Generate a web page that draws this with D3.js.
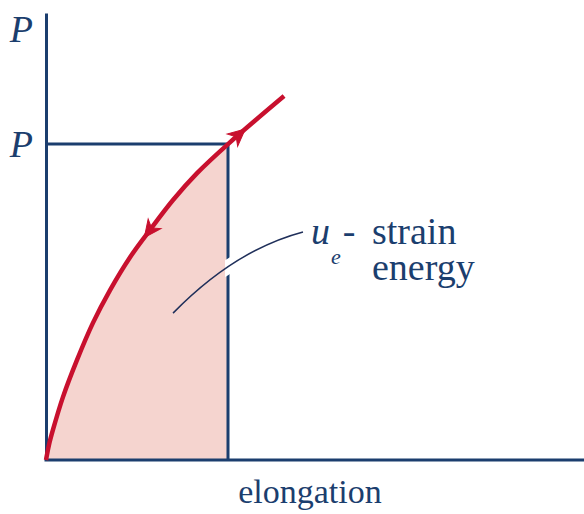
<!DOCTYPE html>
<html>
<head>
<meta charset="utf-8">
<script src="https://cdn.jsdelivr.net/npm/d3@7"></script>
<style>
  body { margin: 0; background: #fff; }
  svg { display: block; }
  .serif { font-family: "Liberation Serif", "Times New Roman", Times, "DejaVu Serif", serif; }
</style>
</head>
<body>
<div id="chart"></div>
<script>
// load-elongation curve, in units of the marked point (elongation at P, load P)
var elongation = [0, 0.016, 0.038, 0.093, 0.170, 0.258, 0.352, 0.462, 0.571, 0.698, 0.830, 1.0, 1.308];
var load = [0, 0.047, 0.095, 0.199, 0.316, 0.434, 0.538, 0.642, 0.728, 0.823, 0.908, 1.0, 1.152];
// the marked point
var markE = 1, markP = 1;
// y tick labels
var yTickVals = [1, 1.364];
var yTickLabels = ["P", "P"];
// leader line from the shaded area to its label (start, control, end)
var leaderE = [0.698, 1.038, 1.412];
var leaderP = [0.465, 0.665, 0.722];
// arrows on the curve: where and which way
var arrowE = [1.07, 0.56];
var arrowDir = [1, -1];

var W = 584, H = 514;
var navy = "#1b3e6e", red = "#c8102e", pink = "#f5d4cf";

var svg = d3.select("#chart").append("svg")
    .attr("width", W)
    .attr("height", H);

var x = d3.scaleLinear().domain([0, 2.956]).range([46, 584]);
var y = d3.scaleLinear().domain([0, 1.415]).range([460, 13]);

var pts = elongation.map(function (e, i) { return [e, load[i]]; });
var smooth = d3.curveCatmullRom.alpha(0.5);

// shaded area under the curve up to the marked point
svg.append("clipPath").attr("id", "under")
    .append("rect")
    .attr("x", x(0)).attr("y", y(markP) - 20)
    .attr("width", x(markE) - x(0))
    .attr("height", y(0) - y(markP) + 20);

var area = d3.area()
    .x(function (d) { return x(d[0]); })
    .y0(y(0))
    .y1(function (d) { return y(d[1]); })
    .curve(smooth);

svg.append("path")
    .datum(pts)
    .attr("d", area)
    .attr("fill", pink)
    .attr("clip-path", "url(#under)");

// guide lines to the marked point
svg.append("line")
    .attr("x1", x(0)).attr("x2", x(markE))
    .attr("y1", y(markP)).attr("y2", y(markP))
    .attr("stroke", navy).attr("stroke-width", 3);
svg.append("line")
    .attr("x1", x(markE)).attr("x2", x(markE))
    .attr("y1", y(markP)).attr("y2", y(0))
    .attr("stroke", navy).attr("stroke-width", 3);

// axes
var yAxis = svg.append("g")
    .attr("transform", "translate(" + x(0) + ",0)")
    .call(d3.axisLeft(y).tickValues(yTickVals)
        .tickFormat(function (d, i) { return yTickLabels[i]; })
        .tickSize(0).tickSizeOuter(0).tickPadding(13));
yAxis.attr("font-family", null).attr("font-size", null);
yAxis.select(".domain").attr("stroke", navy).attr("stroke-width", 3);
yAxis.selectAll("text")
    .attr("class", "serif")
    .style("font-style", "italic")
    .style("font-size", "38px")
    .attr("fill", navy);

var xAxis = svg.append("g")
    .attr("transform", "translate(0," + y(0) + ")")
    .call(d3.axisBottom(x).tickValues([]).tickSizeOuter(0));
xAxis.select(".domain").attr("stroke", navy).attr("stroke-width", 3)
    .attr("d", "M" + (x(0) - 1.5) + ",0H" + x.range()[1]);

// leader line, with a white gap where it crosses the vertical guide
var leader = d3.path();
leader.moveTo(x(leaderE[0]), y(leaderP[0]));
leader.quadraticCurveTo(x(leaderE[1]), y(leaderP[1]), x(leaderE[2]), y(leaderP[2]));

svg.append("clipPath").attr("id", "gap")
    .append("rect")
    .attr("x", x(markE) - 3).attr("y", 0)
    .attr("width", 6).attr("height", H);
svg.append("path")
    .attr("d", leader.toString())
    .attr("fill", "none")
    .attr("stroke", "#fff")
    .attr("stroke-width", 14)
    .attr("clip-path", "url(#gap)");
svg.append("path")
    .attr("d", leader.toString())
    .attr("fill", "none")
    .attr("stroke", "#1f2f5a")
    .attr("stroke-width", 1.5);

// the curve
var line = d3.line()
    .x(function (d) { return x(d[0]); })
    .y(function (d) { return y(d[1]); })
    .curve(smooth);

var curve = svg.append("path")
    .datum(pts)
    .attr("d", line)
    .attr("fill", "none")
    .attr("stroke", red)
    .attr("stroke-width", 4.5);

// arrowheads placed on the curve
var node = curve.node();
var total = node.getTotalLength();
function lengthAtX(px) {
    var lo = 0, hi = total;
    for (var k = 0; k < 40; k++) {
        var mid = (lo + hi) / 2;
        if (node.getPointAtLength(mid).x < px) lo = mid; else hi = mid;
    }
    return (lo + hi) / 2;
}
arrowE.forEach(function (e, i) {
    var L = lengthAtX(x(e));
    var p = node.getPointAtLength(L);
    var a = node.getPointAtLength(Math.max(0, L - 2));
    var b = node.getPointAtLength(Math.min(total, L + 2));
    var ang = Math.atan2(b.y - a.y, b.x - a.x) * 180 / Math.PI;
    if (arrowDir[i] < 0) ang += 180;
    svg.append("path")
        .attr("d", "M6,0L-11,-8L-6,0L-11,8Z")
        .attr("fill", red)
        .attr("stroke", red)
        .attr("stroke-width", 1)
        .attr("transform", "translate(" + p.x + "," + p.y + ") rotate(" + ang + ")");
});

// labels
var lab = svg.append("text")
    .attr("class", "serif")
    .attr("x", 311).attr("y", 244)
    .style("font-size", "38px")
    .attr("fill", navy);
lab.append("tspan").style("font-style", "italic").text("u");
lab.append("tspan").style("font-style", "italic").style("font-size", "22px")
    .attr("dx", 1).attr("dy", 20).text("e");
lab.append("tspan").attr("dx", 2).attr("dy", -20).text("-");
lab.append("tspan").attr("x", 372).text("strain");

svg.append("text")
    .attr("class", "serif")
    .attr("x", 372).attr("y", 280)
    .style("font-size", "38px")
    .attr("fill", navy)
    .text("energy");

svg.append("text")
    .attr("class", "serif")
    .attr("x", 310).attr("y", 503)
    .attr("text-anchor", "middle")
    .style("font-size", "34px")
    .attr("fill", navy)
    .text("elongation");
</script>
</body>
</html>
